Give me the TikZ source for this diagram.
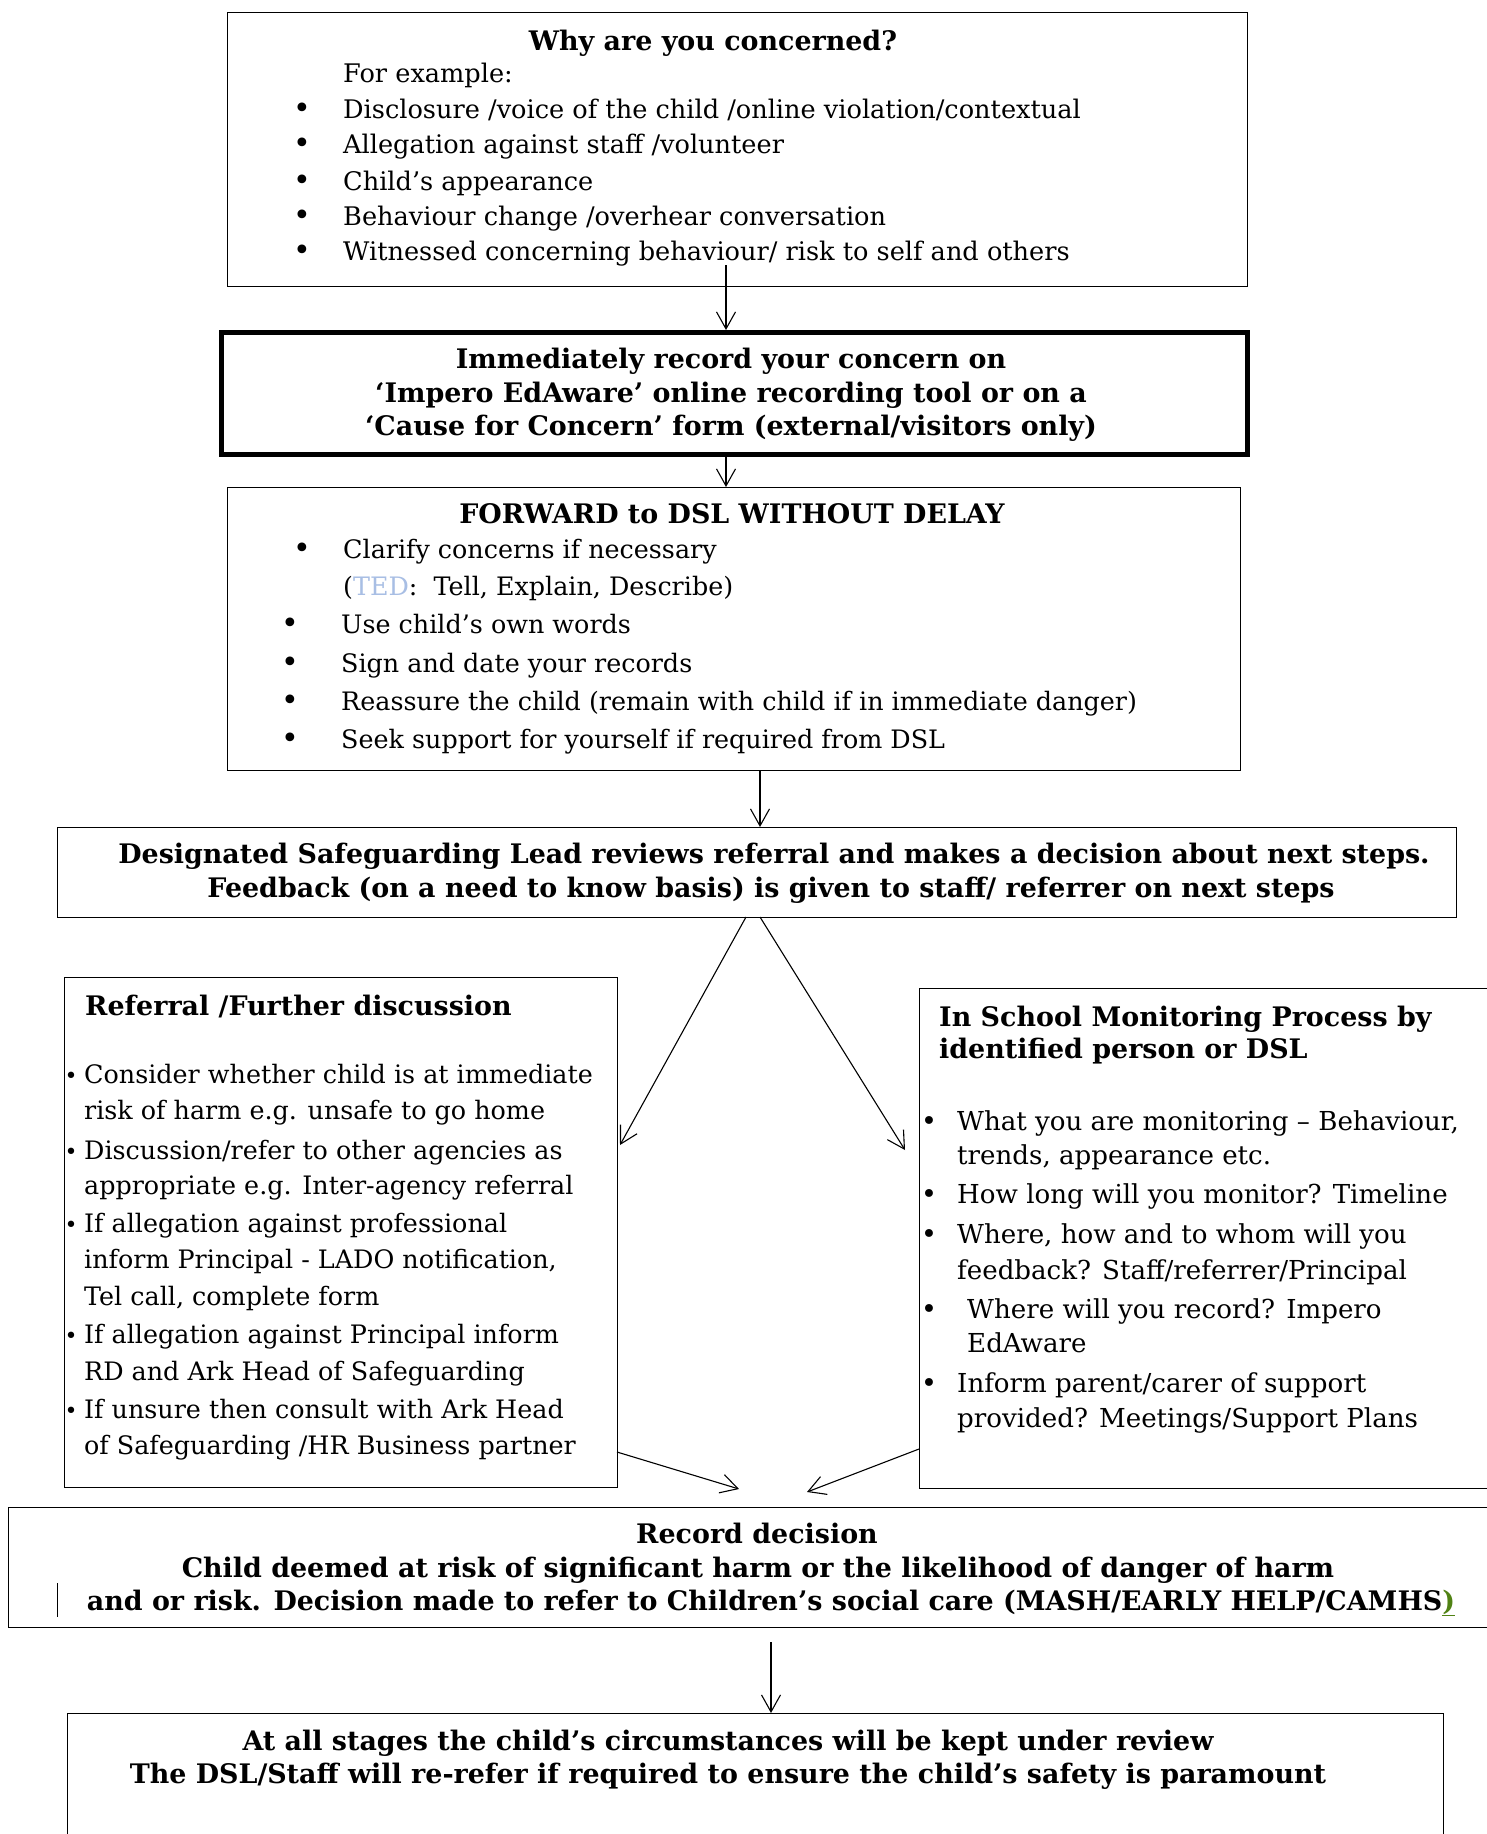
\documentclass[tikz,border=0pt]{standalone}
\usepackage{fontspec}
\setmainfont{DejaVu Serif}
\usetikzlibrary{arrows.meta,calc}
\definecolor{tedblue}{RGB}{168,190,228}
\definecolor{camgreen}{RGB}{80,130,20}
\newcommand\rfnta{\fontsize{25.6}{28}\selectfont}
\newcommand\rfntc{\fontsize{25.4}{28}\selectfont}
\newcommand\rfntv{\fontsize{25.4}{28}\selectfont}
\newcommand\rfntw{\fontsize{26.1}{28}\selectfont}
\newcommand\bfnt{\fontsize{26.9}{28}\selectfont\bfseries}
\begin{document}
\begin{tikzpicture}[x=1pt,y=-1pt,
  box/.style={draw,line width=1.1pt,inner sep=0pt,anchor=north west},
  thickbox/.style={box,line width=5pt},
  arr/.style={line width=1.1pt,-{Straight Barb[length=17pt,width=19pt,line width=1.1pt]}},
  lt/.style={inner sep=0pt,anchor=base west,font=\rfnta},
  ltc/.style={inner sep=0pt,anchor=base west,font=\rfntc},
  lv/.style={inner sep=0pt,anchor=base west,font=\rfntv},
  lw/.style={inner sep=0pt,anchor=base west,font=\rfntw},
  ct/.style={inner sep=0pt,anchor=base,font=\bfnt},
  bt/.style={inner sep=0pt,anchor=base west,font=\bfnt},
  bul/.style={inner sep=0pt,anchor=base,font=\fontsize{30}{30}\selectfont},
  mbul/.style={inner sep=0pt,anchor=base,font=\fontsize{27}{27}\selectfont},
  sbul/.style={inner sep=0pt,anchor=base,font=\fontsize{22}{22}\selectfont}
]
\useasboundingbox (0,0) rectangle (1487,1834);
\fill[white] (0,0) rectangle (1487,1834);

% boxes
\node[box,minimum width=1020pt,minimum height=274pt] (b1) at (227,12) {};
\node[thickbox,minimum width=1026pt,minimum height=122pt] (b2) at (219,330) {};
\node[box,minimum width=1013pt,minimum height=283pt] (b3) at (227,487) {};
\node[box,minimum width=1399pt,minimum height=90pt] (b4) at (57,827) {};
\node[box,minimum width=553pt,minimum height=510pt] (b5) at (64,977) {};
\node[box,minimum width=600pt,minimum height=500pt] (b6) at (919,988) {};
\node[box,minimum width=1510pt,minimum height=120pt] (b7) at (8,1507) {};
\node[box,minimum width=1376pt,minimum height=160pt] (b8) at (67,1713) {};

% box 1 text
\node[ct] (t1) at (713,50) {Why are you concerned?};
\node[lt] (t1e) at (343,82) {For example:};
\foreach \y/\t [count=\i] in {118/{Disclosure /voice of the child /online violation/contextual},
  153/{Allegation against staff /volunteer},
  190/{Child’s appearance},
  225/{Behaviour change /overhear conversation},
  260/{Witnessed concerning behaviour/ risk to self and others}}{
  \node[bul] (b1p\i) at (302,\y) {\textbullet};
  \node[lt] (b1t\i) at (343,\y) {\t};
}

% box 2 text
\node[ct] (t2a) at (731,368) {Immediately record your concern on};
\node[ct] (t2b) at (731,402) {‘Impero EdAware’ online recording tool or on a};
\node[ct] (t2c) at (731,435) {‘Cause for Concern’ form (external/visitors only)};

% box 3 text
\node[ct] (t3) at (732,523) {FORWARD to DSL WITHOUT DELAY};
\node[bul] (b3p0) at (302,558) {\textbullet};
\node[ltc] (b3t0) at (343,558) {Clarify concerns if necessary};
\node[ltc] (b3t00) at (343,595) {(\textcolor{tedblue}{TED}:\ \ Tell, Explain, Describe)};
\foreach \y/\t [count=\i] in {633/{Use child’s own words},
  672/{Sign and date your records},
  710/{Reassure the child (remain with child if in immediate danger)},
  748/{Seek support for yourself if required from DSL}}{
  \node[bul] (b3p\i) at (290,\y) {\textbullet};
  \node[ltc] (b3t\i) at (341,\y) {\t};
}

% box 4 text
\node[ct] (t4a) at (774,863) {Designated Safeguarding Lead reviews referral and makes a decision about next steps.};
\node[ct] (t4b) at (771,897) {Feedback (on a need to know basis) is given to staff/ referrer on next steps};

% box 5 text
\node[bt] (t5) at (85,1015) {Referral /Further discussion};
\foreach \y [count=\i] in {1083,1159,1232,1343,1418}{
  \node[sbul] (b5p\i) at (71,\y) {\textbullet};
}
\foreach \y/\t [count=\i] in {1083/{Consider whether child is at immediate},
  1119/{risk of harm e.g. unsafe to go home},
  1159/{Discussion/refer to other agencies as},
  1194/{appropriate e.g. Inter-agency referral},
  1232/{If allegation against professional},
  1268/{inform Principal - LADO notification,},
  1305/{Tel call, complete form},
  1343/{If allegation against Principal inform},
  1380/{RD and Ark Head of Safeguarding},
  1418/{If unsure then consult with Ark Head},
  1454/{of Safeguarding /HR Business partner}}{
  \node[lv] (b5t\i) at (84,\y) {\t};
}

% box 6 text
\node[bt] (t6a) at (939,1026) {In School Monitoring Process by};
\node[bt] (t6b) at (939,1058) {identified person or DSL};
\foreach \y [count=\i] in {1130,1203,1243,1318,1392}{
  \node[mbul] (b6p\i) at (929,\y) {\textbullet};
}
\foreach \x/\y/\t [count=\i] in {957/1130/{What you are monitoring – Behaviour,},
  957/1164/{trends, appearance etc.},
  957/1203/{How long will you monitor? Timeline},
  957/1243/{Where, how and to whom will you},
  957/1279/{feedback? Staff/referrer/Principal},
  967/1318/{Where will you record? Impero},
  967/1352/{EdAware},
  957/1392/{Inform parent/carer of support},
  957/1427/{provided? Meetings/Support Plans}}{
  \node[lw] (b6t\i) at (\x,\y) {\t};
}

% box 7 text
\node[ct] (t7a) at (757,1543) {Record decision};
\node[ct] (t7b) at (758,1577) {Child deemed at risk of significant harm or the likelihood of danger of harm};
\node[ct] (t7c) at (771,1610) {and or risk. Decision made to refer to Children’s social care (MASH/EARLY HELP/CAMHS\textcolor{camgreen}{\underline{)}}};
\coordinate (bar1) at (57,1583);
\coordinate (bar2) at (57,1617);
\draw[line width=1pt] (bar1) -- (bar2);

% box 8 text
\node[ct] (t8a) at (728,1750) {At all stages the child’s circumstances will be kept under review};
\node[ct] (t8b) at (728,1783) {The DSL/Staff will re-refer if required to ensure the child’s safety is paramount};

% connectors
\coordinate (a1s) at (726,265);
\draw[arr] (a1s) -- (a1s |- b2.north);
\draw[arr] (b2.south -| a1s) -- (b3.north -| a1s);
\coordinate (a3x) at (760,0);
\draw[arr] (b3.south -| a3x) -- (b4.north -| a3x);
\coordinate (a4l) at (746,917);
\coordinate (a4r) at (760,917);
\coordinate (t5in) at (620,1145);
\coordinate (t6in) at (905,1150);
\draw[arr] (a4l) -- (t5in);
\draw[arr] (a4r) -- (t6in);
\coordinate (o5) at (617,1452);
\coordinate (o6) at (919,1449);
\coordinate (i7l) at (739,1489);
\coordinate (i7r) at (807,1492);
\draw[arr] (o5) -- (i7l);
\draw[arr] (o6) -- (i7r);
\coordinate (a7x) at (771,1642);
\draw[arr] (a7x) -- (a7x |- b8.north);
\end{tikzpicture}
\end{document}
